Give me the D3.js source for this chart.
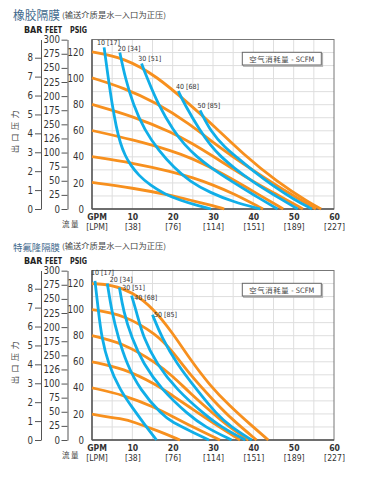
<!DOCTYPE html>
<html><head><meta charset="utf-8">
<script src="https://cdn.jsdelivr.net/npm/d3@7"></script>
<style>
body{margin:0;background:#fff;}
svg{display:block;}
text{font-family:"Liberation Sans Narrow","Arial Narrow","DejaVu Sans Condensed",sans-serif;}
.cjk{font-family:"Noto Sans CJK SC",sans-serif;}
</style></head><body>
<svg id="c" width="380" height="478"></svg>
<script>
// ---------- data ----------
const gpmTicks = [10, 20, 30, 40, 50, 60];
const lpmLabels = ["[38]", "[76]", "[114]", "[151]", "[189]", "[227]"];
const psigTicks = [0, 20, 40, 60, 80, 100, 120];
const feetTicks = [0, 25, 50, 75, 100, 125, 150, 175, 200, 225, 250, 275, 300];
const feetLabels = ["0", "25", "50", "75", "100", "126", "250", "175", "200", "225", "250", "275", "300"];
const barTicks = [0, 1, 2, 3, 4, 5, 6, 7, 8];
const scfmLabels = ["10 [17]", "20 [34]", "30 [51]", "40 [68]", "50 [85]"];

// rubber diaphragm: air inlet pressure curves [GPM, PSIG]
const rubberAir120 = [[0,120.5],[8,116],[16,102],[24.3,80],[30.5,63],[37.5,42],[45.8,21],[54,4.6],[56.8,0]];
const rubberAir100 = [[0,100.6],[7.8,93],[16,81.5],[24.3,65],[30,51],[35,40],[40,29.5],[45,19.5],[50,10],[55.5,0]];
const rubberAir80  = [[0,80.2],[10,71.3],[20,58.5],[25,50],[30,40.5],[35,30.5],[40,21],[45,12.5],[52.3,0]];
const rubberAir60  = [[0,60.2],[10,53.3],[20,44.5],[25,38.5],[30,31],[35,22.5],[40,13.5],[47.4,0]];
const rubberAir40  = [[0,40.2],[10,35.4],[20,28.5],[25,24],[30,18.5],[35,12],[42.4,0]];
const rubberAir20  = [[0,20.4],[10,16.2],[20,10.3],[25,6.2],[30,2.5],[32.8,0]];
// rubber diaphragm: air consumption curves (SCFM)
const rubberScfm10 = [[3,124],[4,101],[5,80],[6,63],[7,50.5],[8.2,41],[9.5,34],[11.5,26],[14.5,18],[18,11.5],[22,6.5],[26,2.8],[29.5,0]];
const rubberScfm20 = [[6.9,120],[8.2,101],[10.2,80],[13.1,60],[16.5,45],[20.2,32],[24.3,21],[29.3,12.5],[35,5.5],[41.7,0]];
const rubberScfm30 = [[12.3,111.5],[13.6,101],[16.4,80],[20.2,60],[23,49],[26,40],[29.3,32],[35,20.5],[40,11],[46,0]];
const rubberScfm40 = [[21.4,90.5],[23,80],[26.8,60],[29.3,49],[32,40],[35,32],[40,20.5],[45,11],[51,0]];
const rubberScfm50 = [[26.8,75.6],[29.5,59],[33,47],[36,39.5],[40,29],[45,17.5],[50,7.5],[54.5,0]];

// PTFE diaphragm
const ptfeAir120 = [[0,120],[5,119],[10,113.5],[15.2,101],[20,82],[24.3,62],[29.3,41.5],[34.2,26],[39.2,12],[43.7,0]];
const ptfeAir100 = [[0,100],[8,96],[16,81],[20,68],[24.3,50],[30.5,29],[35,15],[40.8,0]];
const ptfeAir80  = [[0,80],[7.8,74.3],[16,59],[20,49],[24.3,36],[30.5,19],[34,10],[38.8,0]];
const ptfeAir60  = [[0,60],[7.8,55],[16,42.4],[20,34],[24.3,25],[30.5,12],[36.7,0]];
const ptfeAir40  = [[0,40],[7.8,34.7],[16,24.5],[20,18],[24.3,11],[31.7,0]];
const ptfeAir20  = [[0,19.8],[7.8,16],[10.2,14],[16.9,6.4],[21.8,0]];
const ptfeScfm10 = [[0.74,122],[1.6,98.5],[2.4,78.6],[4.0,58.5],[6.9,38.5],[10.2,24],[13,12],[16,0]];
const ptfeScfm20 = [[3.8,120],[4.9,98.5],[6.5,78.6],[8.6,58.5],[11.9,38.5],[17.3,19.4],[20,13.5],[24.3,7],[29,0]];
const ptfeScfm30 = [[6.8,117],[7.8,98.5],[9.8,78.6],[12.7,58.5],[17.3,38.5],[23.9,19.4],[28,10],[34.6,0]];
const ptfeScfm40 = [[9.8,110.8],[11,98.5],[12.7,78.6],[16,58.5],[21,38.5],[28,19.4],[32,10],[38,0]];
const ptfeScfm50 = [[15,96],[17.3,78.6],[21,58.5],[26,38.5],[31,19.4],[34.5,10],[39.6,0]];

const charts = [
  {title: "橡胶隔膜", sub: "(输送介质是水—入口为正压)",
   air: [rubberAir120, rubberAir100, rubberAir80, rubberAir60, rubberAir40, rubberAir20],
   scfm: [rubberScfm10, rubberScfm20, rubberScfm30, rubberScfm40, rubberScfm50]},
  {title: "特氟隆隔膜", sub: "(输送介质是水—入口为正压)",
   air: [ptfeAir120, ptfeAir100, ptfeAir80, ptfeAir60, ptfeAir40, ptfeAir20],
   scfm: [ptfeScfm10, ptfeScfm20, ptfeScfm30, ptfeScfm40, ptfeScfm50]}
];

// ---------- layout ----------
const layout = [
  {bottom: 209, titleSize: 12, labelOff: [[-7,-2.5],[-2.2,-2],[-3.4,-2.5],[-2.4,-2],[-2.7,-2]]},
  {bottom: 440, titleSize: 9.6, labelOff: [[-4,-6],[2.4,-1.5],[2.7,3],[2.7,4],[1.5,2]]}
];
const ORANGE = "#f7901e", BLUE = "#10aee8";
const svg = d3.select("#c");

charts.forEach((ch, ci) => {
  const L = layout[ci];
  const B = L.bottom, T = B - 169.5;
  const g = svg.append("g");
  const x = d3.scaleLinear().domain([0, 60]).range([92, 334]);
  const y = d3.scaleLinear().domain([0, 130]).range([B, T]);
  const yFeet = d3.scaleLinear().domain([0, 130 * 2.31]).range([B, T]);
  const yBar = d3.scaleLinear().domain([0, 130 / 14.5038]).range([B, T]);

  // titles
  g.append("text").attr("class", "cjk").attr("x", 13).attr("y", B - 189.5)
    .attr("font-size", L.titleSize).attr("fill", "#3f6a8d")
    .attr("textLength", 47).attr("lengthAdjust", "spacingAndGlyphs").text(ch.title);
  g.append("text").attr("class", "cjk").attr("x", 62).attr("y", B - 191)
    .attr("font-size", 7.6).attr("fill", "#444")
    .attr("textLength", 104).attr("lengthAdjust", "spacingAndGlyphs").text(ch.sub);

  // headers
  [["BAR", 24, 18.5], ["FEET", 45, 17], ["PSIG", 70, 17]].forEach(([t, hx, w]) => {
    g.append("text").attr("x", hx).attr("y", B - 176).attr("font-size", 9.4)
      .attr("font-weight", "bold").attr("fill", "#222")
      .attr("textLength", w).attr("lengthAdjust", "spacingAndGlyphs").text(t);
  });

  // grid
  const grid = g.append("g").attr("stroke", "#dedede").attr("stroke-width", 1);
  d3.range(5, 60, 5).forEach(v => grid.append("line")
    .attr("x1", x(v)).attr("x2", x(v)).attr("y1", T).attr("y2", B));
  d3.range(10, 130, 10).forEach(v => grid.append("line")
    .attr("x1", x(0)).attr("x2", x(60)).attr("y1", y(v)).attr("y2", y(v)));
  g.append("rect").attr("x", x(0)).attr("y", T).attr("width", x(60) - x(0)).attr("height", B - T)
    .attr("fill", "none").attr("stroke", "#777").attr("stroke-width", 1);
  g.append("line").attr("x1", x(0)).attr("x2", x(0)).attr("y1", T).attr("y2", B)
    .attr("stroke", "#555").attr("stroke-width", 1.4);
  g.append("line").attr("x1", x(0)).attr("x2", x(60)).attr("y1", B).attr("y2", B)
    .attr("stroke", "#555").attr("stroke-width", 1.4);

  // BAR axis
  const aBar = g.append("g").attr("transform", "translate(41,0)")
    .call(d3.axisLeft(yBar).tickValues(barTicks).tickSize(6).tickSizeOuter(0).tickPadding(2).tickFormat(d3.format("d")));
  // FEET axis
  const aFeet = g.append("g").attr("transform", "translate(67.5,0)")
    .call(d3.axisLeft(yFeet).tickValues(feetTicks).tickSize(6).tickSizeOuter(0).tickPadding(1.5)
      .tickFormat((d, i) => feetLabels[i]));
  // PSIG axis
  const aPsi = g.append("g").attr("transform", "translate(92,0)")
    .call(d3.axisLeft(y).tickValues(psigTicks).tickSize(0).tickPadding(8));
  aPsi.select(".domain").remove();
  [aBar, aFeet, aPsi].forEach(a => {
    a.selectAll("text").attr("font-family", null).attr("font-size", 9.6).attr("fill", "#333");
    a.selectAll("line").attr("stroke", "#555");
    a.select(".domain").attr("stroke", "#555");
  });

  // X axis
  const aX = g.append("g").attr("transform", `translate(0,${B})`)
    .call(d3.axisBottom(x).tickValues(gpmTicks).tickSize(0).tickPadding(5.3));
  aX.select(".domain").remove();
  aX.selectAll(".tick text").attr("font-family", null).attr("font-size", 8.6)
    .attr("font-weight", "bold").attr("fill", "#333");
  aX.selectAll(".tick").append("text").attr("y", 21.4).attr("text-anchor", "middle")
    .attr("font-size", 8.6).attr("fill", "#333").text((d, i) => lpmLabels[i]);
  g.append("text").attr("x", 97).attr("y", B + 11.4).attr("text-anchor", "middle")
    .attr("font-size", 8.6).attr("font-weight", "bold").attr("fill", "#333").text("GPM");
  g.append("text").attr("x", 97).attr("y", B + 21.4).attr("text-anchor", "middle")
    .attr("font-size", 8.6).attr("fill", "#333").text("[LPM]");
  g.append("text").attr("class", "cjk").attr("x", 62).attr("y", B + 17.5)
    .attr("font-size", 7.5).attr("fill", "#444").attr("letter-spacing", 1.5).text("流量");

  // Y title
  g.append("text").attr("class", "cjk")
    .attr("transform", `translate(18,${B - 79}) rotate(-90)`)
    .attr("text-anchor", "middle").attr("font-size", 8).attr("fill", "#444")
    .attr("letter-spacing", 3.5).text("出口压力");

  // curves
  const line = d3.line().x(d => x(d[0])).y(d => y(d[1])).curve(d3.curveBasis);
  g.append("g").selectAll("path").data(ch.air).join("path")
    .attr("d", line).attr("fill", "none").attr("stroke", ORANGE).attr("stroke-width", 2.8)
    .attr("stroke-linecap", "butt");
  g.append("g").selectAll("path").data(ch.scfm).join("path")
    .attr("d", line).attr("fill", "none").attr("stroke", BLUE).attr("stroke-width", 2.8)
    .attr("stroke-linecap", "butt");
  g.append("g").selectAll("text").data(ch.scfm).join("text")
    .attr("x", (d, i) => x(d[0][0]) + L.labelOff[i][0])
    .attr("y", (d, i) => y(d[0][1]) + L.labelOff[i][1])
    .attr("font-size", 7).attr("fill", "#333").text((d, i) => scfmLabels[i]);

  // legend box
  const lx = 242.3, ly = B - 156.7;
  g.append("rect").attr("x", lx + 1.3).attr("y", ly + 1.3).attr("width", 79).attr("height", 12.7)
    .attr("fill", "none").attr("stroke", "#aaa").attr("stroke-width", 1);
  g.append("rect").attr("x", lx).attr("y", ly).attr("width", 79).attr("height", 12.7)
    .attr("fill", "#fff").attr("stroke", "#666").attr("stroke-width", 1);
  const lt = g.append("text").attr("x", lx + 39.5).attr("y", ly + 9.2).attr("text-anchor", "middle")
    .attr("font-size", 7.4).attr("fill", "#444");
  lt.append("tspan").attr("class", "cjk").attr("letter-spacing", 0.6).text("空气消耗量");
  lt.append("tspan").text(" - SCFM");
});
</script>
</body></html>
